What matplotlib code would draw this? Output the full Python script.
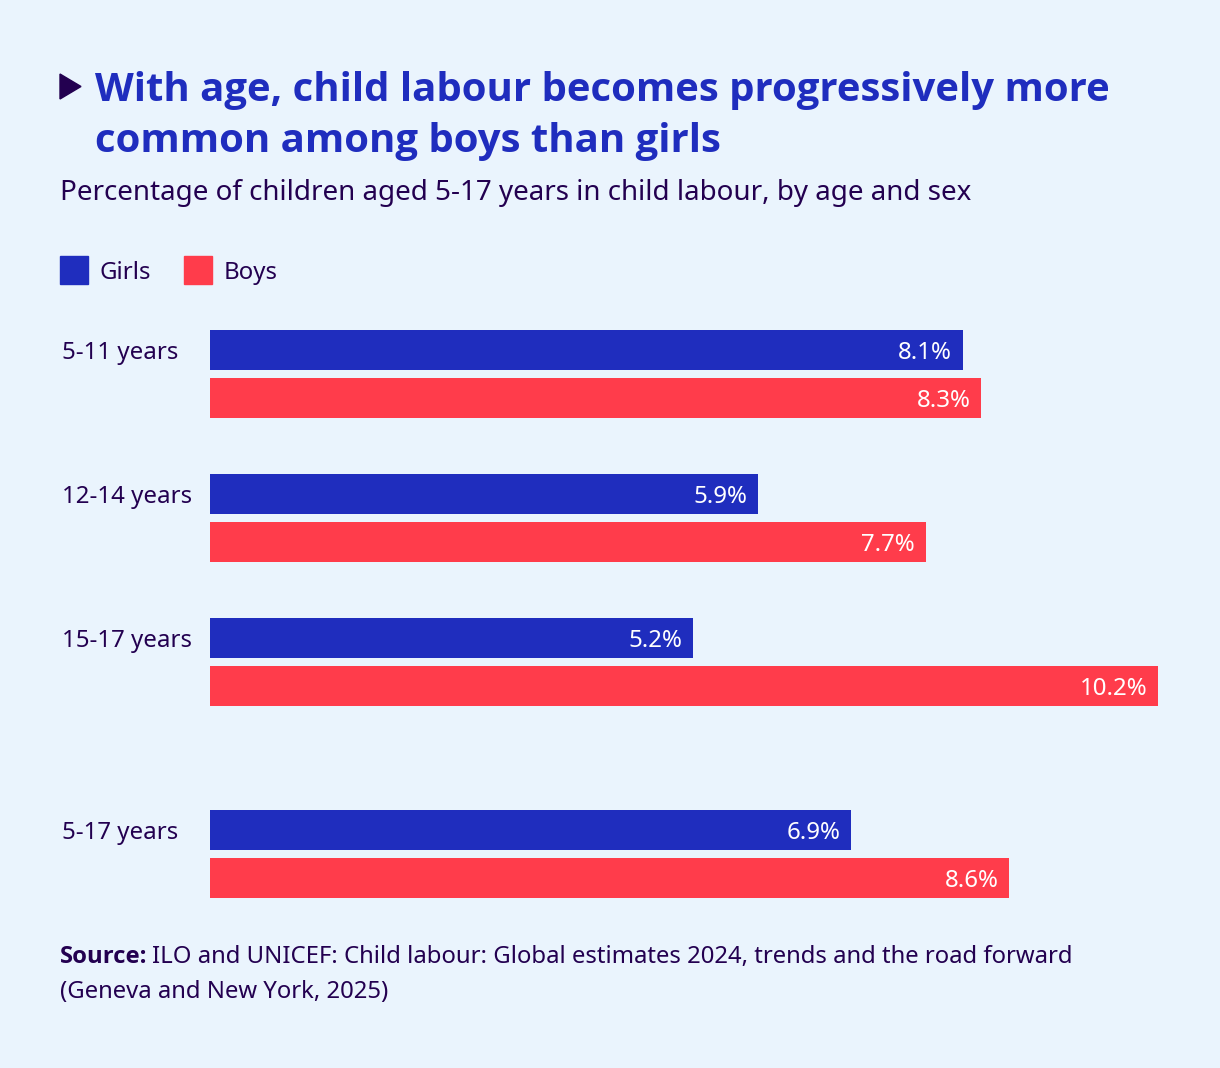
import matplotlib
matplotlib.use("Agg")
import matplotlib.pyplot as plt
from matplotlib.patches import Rectangle, Polygon
from matplotlib import font_manager as fm

categories = ["5-11 years", "12-14 years", "15-17 years", "5-17 years"]
girls = [8.1, 5.9, 5.2, 6.9]
boys = [8.3, 7.7, 10.2, 8.6]
series_names = ["Girls", "Boys"]

BG = "#EAF4FD"
BLUE = "#1F2DBE"
RED = "#FF3C4B"
TXT = "#230050"
W, H = 1220, 1068

plt.rcParams["font.family"] = ["Noto Sans", "DejaVu Sans"]

# find a bold face
bold_family = ["Open Sans", "Noto Sans", "DejaVu Sans"]
names_bold = {f.name for f in fm.fontManager.ttflist if f.weight in (700, "bold")}
for cand in ["Noto Sans", "Open Sans", "Lato", "Roboto", "DejaVu Sans"]:
    if cand in names_bold:
        bold_family = [cand, "DejaVu Sans"]
        break

fig = plt.figure(figsize=(W / 100, H / 100), dpi=100, facecolor=BG)

def fx(x):
    return x / W

def fy(y):
    return 1 - y / H

FS = 17.3

# Title block
tri = Polygon([[fx(60), fy(74)], [fx(60), fy(99)], [fx(81), fy(86.5)]],
              closed=True, transform=fig.transFigure, color=TXT)
fig.patches.append(tri)
fig.text(fx(95), fy(101), "With age, child labour becomes progressively more",
         fontsize=28.9, fontweight="bold", family=bold_family, color=BLUE, va="baseline", ha="left")
fig.text(fx(95), fy(152), "common among boys than girls",
         fontsize=28.9, fontweight="bold", family=bold_family, color=BLUE, va="baseline", ha="left")
fig.text(fx(60), fy(200), "Percentage of children aged 5-17 years in child labour, by age and sex",
         fontsize=20, color=TXT, va="baseline", ha="left")

# Legend
for (x0, name, col) in [(60, series_names[0], BLUE), (184, series_names[1], RED)]:
    fig.patches.append(Rectangle((fx(x0), fy(284)), 28 / W, 28 / H,
                                 transform=fig.transFigure, color=col))
    fig.text(fx(x0 + 40), fy(270), name, fontsize=FS, color=TXT,
             va="center_baseline", ha="left")

# Bars axis (pixel-space y)
ax_top, ax_bot = 320, 910
ax = fig.add_axes([fx(210), fy(ax_bot), (1158 - 210) / W, (ax_bot - ax_top) / H])
ax.set_facecolor("none")
ax.set_xlim(0, max(boys))
ax.set_ylim(ax_bot, ax_top)
ax.axis("off")

bar_h = 40
for i, cat in enumerate(categories):
    base = 350 + i * 144 + (48 if i == 3 else 0)
    for val, yc, col in [(girls[i], base, BLUE), (boys[i], base + 48, RED)]:
        ax.barh(yc, val, height=bar_h, color=col, left=0)
        ax.annotate(f"{val:.1f}%", (val, yc), xytext=(-11, 0), textcoords="offset pixels",
                    ha="right", va="center_baseline", color="white", fontsize=FS)
    fig.text(fx(62), fy(base), cat, fontsize=FS, color=TXT,
             va="center_baseline", ha="left")

# Source
FS_SRC = 17.2
fig.canvas.draw()
r = fig.canvas.get_renderer()
t1 = fig.text(fx(60), fy(963), "Source:", fontsize=FS_SRC, fontweight="bold", family=bold_family,
              color=TXT, va="baseline", ha="left")
bb = t1.get_window_extent(renderer=r)
fig.text(bb.x1 / W + 5 / W, fy(963),
         "ILO and UNICEF: Child labour: Global estimates 2024, trends and the road forward",
         fontsize=FS_SRC, color=TXT, va="baseline", ha="left")
fig.text(fx(60), fy(998), "(Geneva and New York, 2025)", fontsize=FS_SRC, color=TXT,
         va="baseline", ha="left")

fig.savefig("out.png", dpi=100, facecolor=BG)
